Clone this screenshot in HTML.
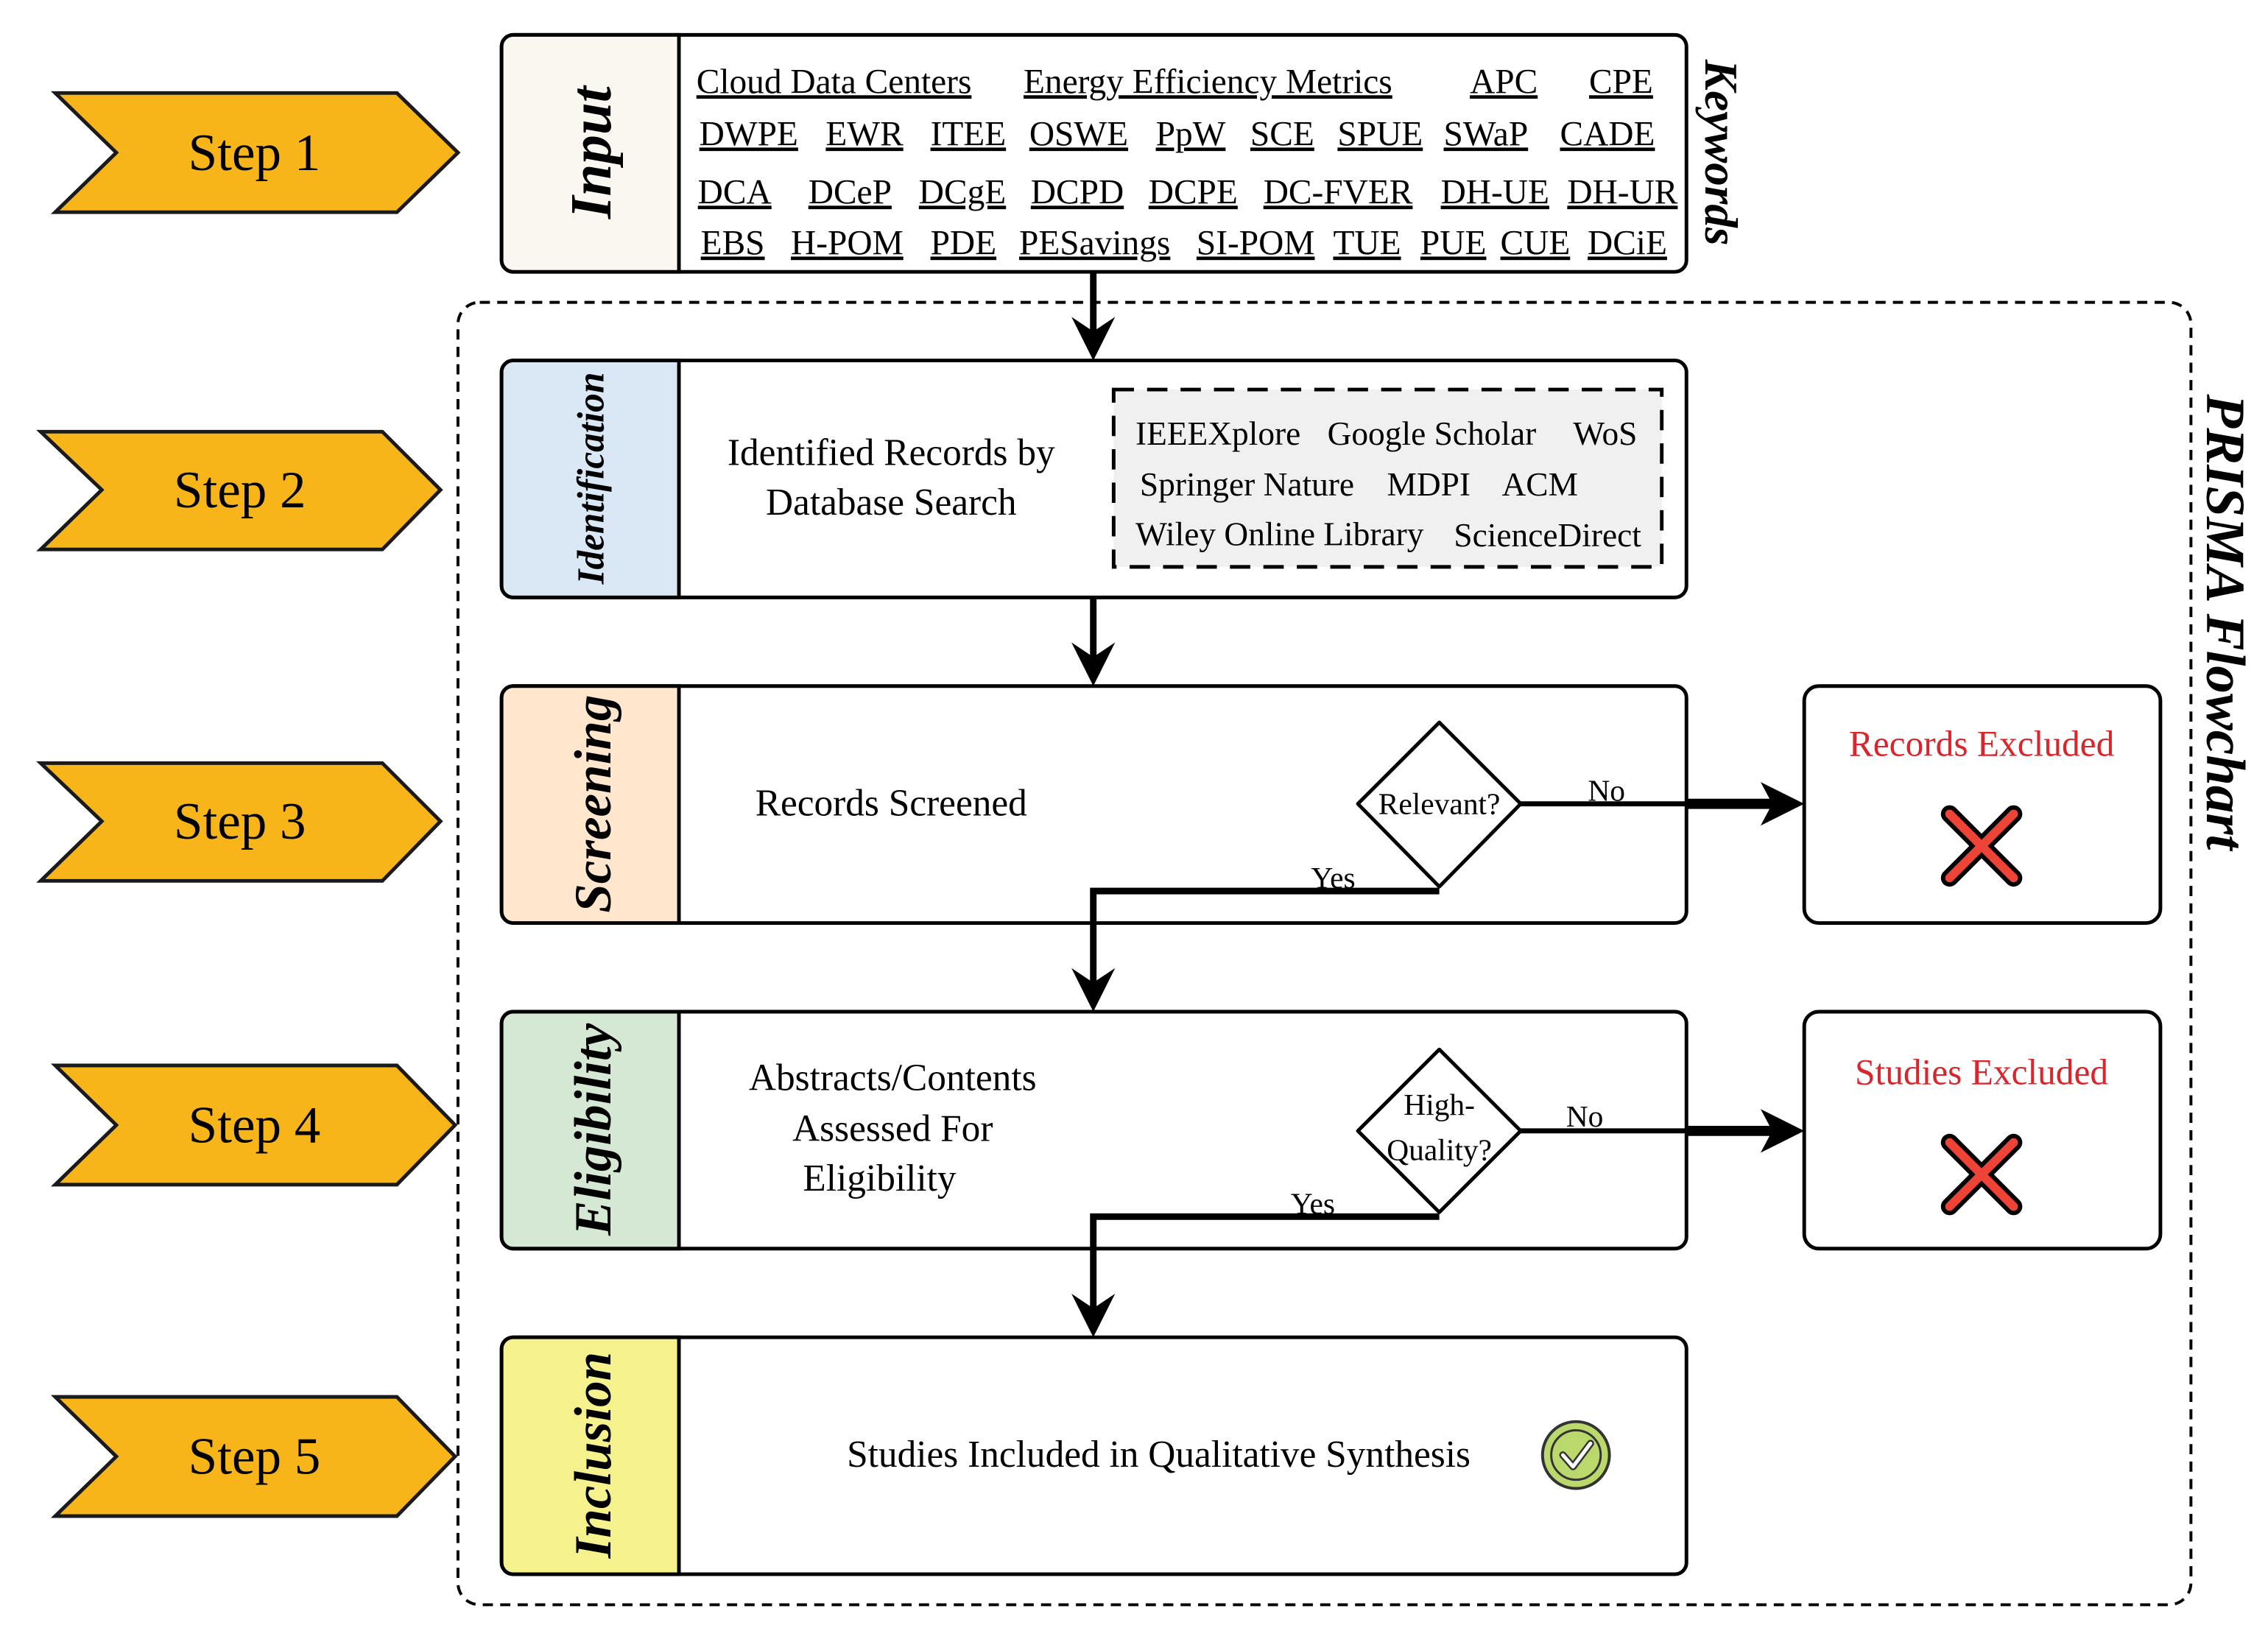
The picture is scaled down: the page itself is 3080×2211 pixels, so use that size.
<!DOCTYPE html>
<html><head><meta charset="utf-8"><style>
html,body{margin:0;padding:0;background:#fff;}
svg{display:block;}
text{font-family:"Liberation Serif",serif;}
</style></head><body>
<svg width="3080" height="2211" viewBox="0 0 1560 1120" preserveAspectRatio="none" xmlns="http://www.w3.org/2000/svg">
<defs>
<marker id="ah" markerWidth="10" markerHeight="10" refX="8" refY="5" orient="auto" markerUnits="userSpaceOnUse"><path d="M0,0 L0,0"/></marker>
</defs>
<!-- Steps -->
<g fill="#F7B519" stroke="#1a1a1a" stroke-width="2.5">
<polygon points="38,64 273,64 315,105 273,146 38,146 80,105"/>
<polygon points="28,297 263,297 303,337 263,378 28,378 70,337"/>
<polygon points="28,525 263,525 303,565 263,606 28,606 70,565"/>
<polygon points="38,733 273,733 313,774 273,815 38,815 80,774"/>
<polygon points="38,961 273,961 313,1002 273,1043 38,1043 80,1002"/>
</g>
<g font-size="36" text-anchor="middle" fill="#000">
<text x="175" y="117">Step 1</text>
<text x="165" y="349">Step 2</text>
<text x="165" y="577">Step 3</text>
<text x="175" y="786">Step 4</text>
<text x="175" y="1014">Step 5</text>
</g>

<!-- dashed container -->
<rect x="315" y="208" width="1192" height="896" rx="15" fill="none" stroke="#000" stroke-width="2" stroke-dasharray="7,5"/>
<text transform="translate(1518,428) rotate(90)" font-size="38" font-weight="bold" font-style="italic" text-anchor="middle">PRISMA Flowchart</text>

<!-- Input box -->
<rect x="345" y="24" width="815" height="163" rx="8" fill="#fff" stroke="#000" stroke-width="2.5"/>
<path d="M467,24 V187 H353 a8,8 0 0 1 -8,-8 V32 a8,8 0 0 1 8,-8 Z" fill="#FAF7F0" stroke="#000" stroke-width="2.5"/>
<text transform="translate(420,105) rotate(-90)" font-size="40" font-weight="bold" font-style="italic" text-anchor="middle">Input</text>
<text transform="translate(1173,105) rotate(90)" font-size="32" font-weight="bold" font-style="italic" text-anchor="middle">Keywords</text>
<g font-size="24" text-decoration="underline" fill="#000">
<text x="479" y="64">Cloud Data Centers</text>
<text x="704" y="64">Energy Efficiency Metrics</text>
<text x="1011" y="64">APC</text>
<text x="1093" y="64">CPE</text>
<text x="481" y="100">DWPE</text>
<text x="568" y="100">EWR</text>
<text x="640" y="100">ITEE</text>
<text x="708" y="100">OSWE</text>
<text x="795" y="100">PpW</text>
<text x="860" y="100">SCE</text>
<text x="920" y="100">SPUE</text>
<text x="993" y="100">SWaP</text>
<text x="1073" y="100">CADE</text>
<text x="480" y="140">DCA</text>
<text x="556" y="140">DCeP</text>
<text x="632" y="140">DCgE</text>
<text x="709" y="140">DCPD</text>
<text x="790" y="140">DCPE</text>
<text x="869" y="140">DC-FVER</text>
<text x="991" y="140">DH-UE</text>
<text x="1078" y="140">DH-UR</text>
<text x="482" y="175">EBS</text>
<text x="544" y="175">H-POM</text>
<text x="640" y="175">PDE</text>
<text x="701" y="175">PESavings</text>
<text x="823" y="175">SI-POM</text>
<text x="917" y="175">TUE</text>
<text x="977" y="175">PUE</text>
<text x="1032" y="175">CUE</text>
<text x="1092" y="175">DCiE</text>
</g>

<!-- Stage boxes -->
<g stroke="#000" stroke-width="2.5">
<rect x="345" y="248" width="815" height="163" rx="8" fill="#fff"/>
<path d="M467,248 V411 H353 a8,8 0 0 1 -8,-8 V256 a8,8 0 0 1 8,-8 Z" fill="#DAE8F5"/>
<rect x="345" y="472" width="815" height="163" rx="8" fill="#fff"/>
<path d="M467,472 V635 H353 a8,8 0 0 1 -8,-8 V480 a8,8 0 0 1 8,-8 Z" fill="#FFE6CC"/>
<rect x="345" y="696" width="815" height="163" rx="8" fill="#fff"/>
<path d="M467,696 V859 H353 a8,8 0 0 1 -8,-8 V704 a8,8 0 0 1 8,-8 Z" fill="#D5E8D4"/>
<rect x="345" y="920" width="815" height="163" rx="8" fill="#fff"/>
<path d="M467,920 V1083 H353 a8,8 0 0 1 -8,-8 V928 a8,8 0 0 1 8,-8 Z" fill="#F5F28E"/>
<rect x="1241" y="472" width="245" height="163" rx="10" fill="#fff"/>
<rect x="1241" y="696" width="245" height="163" rx="10" fill="#fff"/>
</g>
<g font-weight="bold" font-style="italic" text-anchor="middle">
<text transform="translate(415,329) rotate(-90)" font-size="26">Identification</text>
<text transform="translate(420,553) rotate(-90)" font-size="36">Screening</text>
<text transform="translate(420,777) rotate(-90)" font-size="36">Eligibility</text>
<text transform="translate(420,1001) rotate(-90)" font-size="36">Inclusion</text>
</g>

<g font-size="26" text-anchor="middle">
<text x="613" y="320">Identified Records by</text>
<text x="613" y="354">Database Search</text>
<text x="613" y="561">Records Screened</text>
<text x="614" y="750">Abstracts/Contents</text>
<text x="614" y="785">Assessed For</text>
<text x="605" y="819">Eligibility</text>
<text x="797" y="1009">Studies Included in Qualitative Synthesis</text>
<text x="1363" y="520" fill="#D9262C" font-size="25">Records Excluded</text>
<text x="1363" y="746" fill="#D9262C" font-size="25">Studies Excluded</text>
</g>

<!-- databases box -->
<rect x="766" y="268" width="377" height="122" fill="#F0F0F0" stroke="#000" stroke-width="2.5" stroke-dasharray="14,9"/>
<g font-size="23">
<text x="781" y="306">IEEEXplore</text>
<text x="913" y="306">Google Scholar</text>
<text x="1082" y="306">WoS</text>
<text x="784" y="341">Springer Nature</text>
<text x="954" y="341">MDPI</text>
<text x="1033" y="341">ACM</text>
<text x="781" y="375">Wiley Online Library</text>
<text x="1000" y="376">ScienceDirect</text>
</g>

<!-- arrows down -->
<g stroke="#000" stroke-width="4.5" fill="none">
<line x1="752" y1="187" x2="752" y2="232"/>
<line x1="752" y1="411" x2="752" y2="456"/>
<polyline points="990,613 752,613 752,680"/>
<polyline points="990,837 752,837 752,904"/>
<line x1="1046" y1="553" x2="1160" y2="553" stroke-width="3.5"/>
<line x1="1160" y1="553" x2="1222" y2="553" stroke-width="7"/>
<line x1="1046" y1="778" x2="1160" y2="778" stroke-width="3.5"/>
<line x1="1160" y1="778" x2="1222" y2="778" stroke-width="7"/>
</g>
<g fill="#000">
<polygon points="737,218 752,248 767,218 752,228"/>
<polygon points="737,442 752,472 767,442 752,452"/>
<polygon points="737,666 752,696 767,666 752,676"/>
<polygon points="737,890 752,920 767,890 752,900"/>
<polygon points="1211,538 1241,553 1211,568 1219,553"/>
<polygon points="1211,763 1241,778 1211,793 1219,778"/>
</g>

<!-- diamonds -->
<g fill="#fff" stroke="#000" stroke-width="2.5" stroke-linejoin="round">
<polygon points="990,497 1046,553 990,610 934,553"/>
<polygon points="990,722 1046,778 990,834 934,778"/>
</g>
<g font-size="21" text-anchor="middle">
<text x="990" y="560">Relevant?</text>
<text x="990" y="767">High-</text>
<text x="990" y="798">Quality?</text>
<text x="1105" y="551">No</text>
<text x="1090" y="775">No</text>
<text x="917" y="611">Yes</text>
<text x="903" y="835">Yes</text>
</g>

<!-- red X icons -->
<g stroke-linecap="round">
<g stroke="#000" stroke-width="12">
<line x1="1341" y1="560" x2="1385" y2="604"/><line x1="1385" y1="560" x2="1341" y2="604"/>
<line x1="1341" y1="786" x2="1385" y2="830"/><line x1="1385" y1="786" x2="1341" y2="830"/>
</g>
<g stroke="#EE4438" stroke-width="6">
<line x1="1341" y1="560" x2="1385" y2="604"/><line x1="1385" y1="560" x2="1341" y2="604"/>
<line x1="1341" y1="786" x2="1385" y2="830"/><line x1="1385" y1="786" x2="1341" y2="830"/>
</g>
</g>

<!-- check -->
<circle cx="1084" cy="1001" r="23" fill="#BBD86C" stroke="#333" stroke-width="2"/>
<circle cx="1084" cy="1001" r="17" fill="#BBD86C" stroke="#333" stroke-width="1.5"/>
<polyline points="1075,1001 1082,1009 1094,993" fill="none" stroke="#333" stroke-width="5" stroke-linecap="round" stroke-linejoin="round"/>
<polyline points="1075,1001 1082,1009 1094,993" fill="none" stroke="#fff" stroke-width="2.5" stroke-linecap="round" stroke-linejoin="round"/>
</svg>
</body></html>
